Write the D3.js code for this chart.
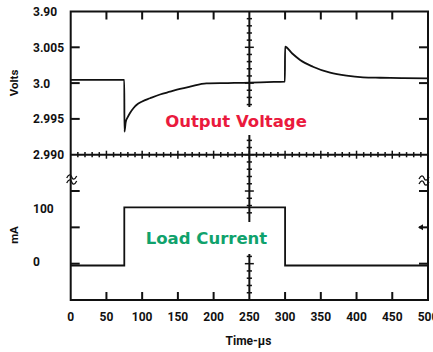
<!DOCTYPE html>
<html>
<head>
<meta charset="utf-8">
<script src="https://cdn.jsdelivr.net/npm/d3@7/dist/d3.min.js"></script>
<style>
html, body { margin: 0; padding: 0; background: #fff; overflow: hidden; }
text { font-family: Roboto, "DejaVu Sans Condensed", sans-serif; font-weight: bold; }
text.trace { font-family: "DejaVu Sans", sans-serif; }
</style>
</head>
<body>
<svg id="chart" width="433" height="352"></svg>
<script>
// tick labels
const timeTicks = [0, 50, 100, 150, 200, 250, 300, 350, 400, 450, 500];
const voltTickValues = [3.010, 3.005, 3.000, 2.995, 2.990];
const voltTickLabels = ["3.90", "3.005", "3.0", "2.995", "2.990"];
const currentTickValues = [100, 0];
const currentTickLabels = ["100", "0"];

// output voltage trace (us, V)
const voltTime = [0, 75, 75.2, 77, 80, 83, 88, 92, 100, 111, 125, 139, 153, 167, 190, 220, 251, 275, 299.7,
  300, 310, 321, 339, 363, 386, 409, 433, 466, 500];
const voltValue = [3.00045, 3.00045, 2.99321, 2.99457, 2.99527, 2.99582, 2.99652, 2.99694, 2.99743, 2.99788,
  2.99841, 2.99880, 2.99918, 2.99950, 2.99997, 3.00001, 3.00006, 3.00015, 3.00022,
  3.00508, 3.00413, 3.00323, 3.00229, 3.00145, 3.00103, 3.00081, 3.00075, 3.00070, 3.00067];

// load current trace (us, mA)
const currentTime = [0, 75, 75, 300, 300, 500];
const currentValue = [0, 0, 100, 100, 0, 0];

var svg = d3.select("#chart");

var x = d3.scaleLinear().domain([0, 500]).range([70.7, 428]);
// graticule divisions, 0 = top frame, 4 = middle axis, 8 = bottom frame
var yDiv = d3.scaleLinear().domain([0, 4, 8]).range([11.5, 154.7, 300]);
var yV = d3.scaleLinear().domain([3.010, 2.990]).range([yDiv(0), yDiv(4)]);
var yI = d3.scaleLinear().domain([0, 100]).range([265.5, 207.3]);

var x0 = x(0), x1 = x(500);
var ink = "#111";

// frame
svg.append("rect")
    .attr("x", x0)
    .attr("y", yDiv(0))
    .attr("width", x1 - x0)
    .attr("height", yDiv(8) - yDiv(0))
    .attr("fill", "none")
    .attr("stroke", ink)
    .attr("stroke-width", 2);

// top and bottom frame ticks
var frameTicks = timeTicks.filter(function (t) { return t > 0 && t < 500 && t != 250; });
svg.selectAll(".ftTop").data(frameTicks).enter().append("line")
    .attr("x1", function (d) { return x(d); })
    .attr("x2", function (d) { return x(d); })
    .attr("y1", yDiv(0))
    .attr("y2", yDiv(0) + 8)
    .attr("stroke", ink)
    .attr("stroke-width", 2);
svg.selectAll(".ftBot").data(frameTicks).enter().append("line")
    .attr("x1", function (d) { return x(d); })
    .attr("x2", function (d) { return x(d); })
    .attr("y1", yDiv(8))
    .attr("y2", yDiv(8) - 8)
    .attr("stroke", ink)
    .attr("stroke-width", 2);

// left / right division ticks
var sideDivs = [1, 2, 3, 5, 6, 7];
svg.selectAll(".ltick").data(sideDivs).enter().append("line")
    .attr("x1", x0)
    .attr("x2", x0 + 9)
    .attr("y1", function (d) { return yDiv(d); })
    .attr("y2", function (d) { return yDiv(d); })
    .attr("stroke", ink)
    .attr("stroke-width", 2);
svg.selectAll(".rtick").data(sideDivs).enter().append("line")
    .attr("x1", x1 - 9)
    .attr("x2", x1)
    .attr("y1", function (d) { return yDiv(d); })
    .attr("y2", function (d) { return yDiv(d); })
    .attr("stroke", ink)
    .attr("stroke-width", 2);

// ground marker arrow on the right
svg.append("path")
    .attr("d", "M" + (x1 - 10) + "," + yDiv(6) + "l5,-3v6z")
    .attr("fill", ink);

// middle horizontal axis
svg.append("line")
    .attr("x1", x0).attr("x2", x1)
    .attr("y1", yDiv(4)).attr("y2", yDiv(4))
    .attr("stroke", ink).attr("stroke-width", 2);
svg.selectAll(".mtick").data(d3.range(10, 500, 10)).enter().append("line")
    .attr("x1", function (d) { return x(d); })
    .attr("x2", function (d) { return x(d); })
    .attr("y1", function (d) { return yDiv(4) - (d % 50 == 0 ? 4 : 2.6); })
    .attr("y2", function (d) { return yDiv(4) + (d % 50 == 0 ? 4 : 2.6); })
    .attr("stroke", ink)
    .attr("stroke-width", 1.5);

// center vertical axis, broken where the labels sit
var xc = x(250);
var centerSegs = [[yDiv(0), 107], [135, 222], [254, yDiv(8)]];
svg.selectAll(".cseg").data(centerSegs).enter().append("line")
    .attr("x1", xc).attr("x2", xc)
    .attr("y1", function (d) { return d[0]; })
    .attr("y2", function (d) { return d[1]; })
    .attr("stroke", ink).attr("stroke-width", 2);
var centerTicks = d3.range(1, 40).map(function (i) { return i / 5; }).filter(function (d) {
    var yy = yDiv(d);
    return centerSegs.some(function (s) { return yy >= s[0] + 2 && yy <= s[1] - 2; });
});
svg.selectAll(".ctick").data(centerTicks).enter().append("line")
    .attr("x1", function (d) { return xc - (Math.abs(d - Math.round(d)) < 1e-6 ? 4.5 : 2.6); })
    .attr("x2", function (d) { return xc + (Math.abs(d - Math.round(d)) < 1e-6 ? 4.5 : 2.6); })
    .attr("y1", function (d) { return yDiv(d); })
    .attr("y2", function (d) { return yDiv(d); })
    .attr("stroke", ink)
    .attr("stroke-width", 1.5);

// axis break marks
function breakMark(cx, cy) {
    var g = svg.append("g").attr("transform", "translate(" + cx + "," + cy + ")");
    [-2.5, 2.5].forEach(function (dy) {
        g.append("path")
            .attr("d", "M-5," + (dy + 1) + "c2,-4 4,-4 5,-1 s3,3 5,-1")
            .attr("fill", "none")
            .attr("stroke", ink)
            .attr("stroke-width", 1.3);
    });
}
breakMark(x0 + 1, 179.5);
breakMark(x1 - 4, 180.5);

// traces
var vLine = d3.line()
    .x(function (d, i) { return x(voltTime[i]); })
    .y(function (d, i) { return yV(voltValue[i]); })
    .curve(d3.curveMonotoneX);
svg.append("path")
    .attr("d", vLine(voltTime))
    .attr("fill", "none")
    .attr("stroke", ink)
    .attr("stroke-width", 1.8);

var iLine = d3.line()
    .x(function (d, i) { return x(currentTime[i]); })
    .y(function (d, i) { return yI(currentValue[i]); });
svg.append("path")
    .attr("d", iLine(currentTime))
    .attr("fill", "none")
    .attr("stroke", ink)
    .attr("stroke-width", 1.8);

// tick labels
svg.selectAll(".vlab").data(voltTickValues).enter().append("text")
    .attr("x", 33)
    .attr("y", function (d) { return yV(d) + 4.5; })
    .attr("font-size", 12)
    .attr("fill", ink)
    .text(function (d, i) { return voltTickLabels[i]; });

svg.selectAll(".ilab").data(currentTickValues).enter().append("text")
    .attr("x", 33)
    .attr("y", function (d) { return yI(d) + (d == 0 ? 0.5 : 5.5); })
    .attr("font-size", 12)
    .attr("fill", ink)
    .text(function (d, i) { return currentTickLabels[i]; });

svg.selectAll(".tlab").data(timeTicks).enter().append("text")
    .attr("x", function (d) { return x(d); })
    .attr("y", 321)
    .attr("text-anchor", "middle")
    .attr("font-size", 12)
    .attr("fill", ink)
    .text(function (d) { return d; });

// axis titles
svg.append("text")
    .attr("transform", "translate(18,83) rotate(-90)")
    .attr("text-anchor", "middle")
    .attr("font-size", 11.5)
    .attr("fill", ink)
    .text("Volts");
svg.append("text")
    .attr("transform", "translate(18,235) rotate(-90)")
    .attr("text-anchor", "middle")
    .attr("font-size", 11.5)
    .attr("fill", ink)
    .text("mA");
svg.append("text")
    .attr("x", 248.5)
    .attr("y", 345)
    .attr("text-anchor", "middle")
    .attr("font-size", 12)
    .attr("fill", ink)
    .text("Time-\u00b5s");

// trace labels
svg.append("text")
    .attr("class", "trace")
    .attr("x", 236)
    .attr("y", 127)
    .attr("text-anchor", "middle")
    .attr("font-size", 16.5)
    .attr("fill", "#ea1a3d")
    .text("Output Voltage");
svg.append("text")
    .attr("class", "trace")
    .attr("x", 206.5)
    .attr("y", 244)
    .attr("text-anchor", "middle")
    .attr("font-size", 16.5)
    .attr("fill", "#10a26c")
    .text("Load Current");
</script>
</body>
</html>
